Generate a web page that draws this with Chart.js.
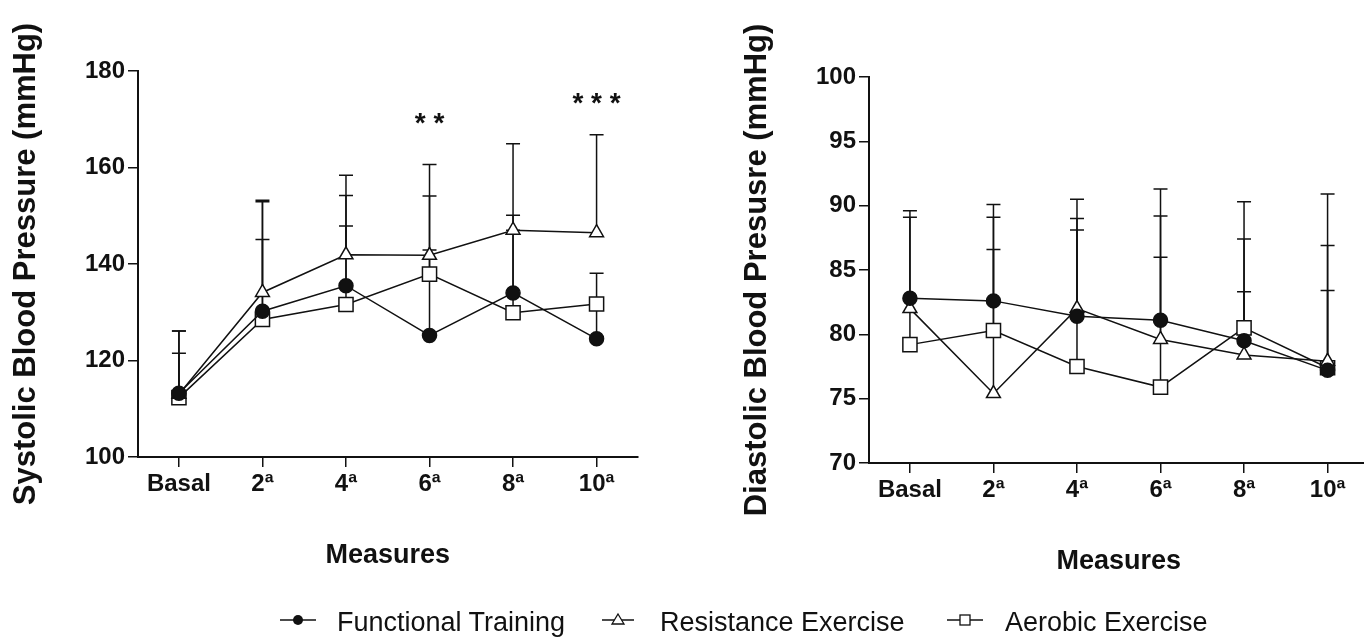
<!DOCTYPE html>
<html>
<head>
<meta charset="utf-8">
<title>Blood pressure by measure</title>
<script src="https://cdn.jsdelivr.net/npm/chart.js@4.4.1/dist/chart.umd.min.js"></script>
<style>
    html, body { margin: 0; padding: 0; background: #fff; overflow: hidden; }
    body { width: 1364px; height: 638px; position: relative; font-family: "Liberation Sans", Arial, sans-serif; color: #111; }
    canvas { display: block; }
    #sbpBox { position: absolute; left: 0; top: 0; width: 649px; height: 638px; }
    #dbpBox { position: absolute; left: 731px; top: 6px; width: 649px; height: 638px; }
    .mark { position: absolute; top: 610px; }
    .label { position: absolute; top: 609px; font-size: 27px; line-height: 27px; white-space: nowrap; }
</style>
</head>
<body>
<div id="sbpBox"><canvas id="sbpChart" width="649" height="638"></canvas></div>
<div id="dbpBox"><canvas id="dbpChart" width="649" height="638"></canvas></div>

<svg class="mark" style="left:280px" width="36" height="20">
    <line x1="0" y1="10" x2="36" y2="10" stroke="#111" stroke-width="1.5"/>
    <circle cx="18" cy="10" r="5" fill="#111"/>
</svg>
<span class="label" style="left:337px">Functional Training</span>
<svg class="mark" style="left:602px" width="32" height="20">
    <line x1="0" y1="10" x2="32" y2="10" stroke="#111" stroke-width="1.5"/>
    <polygon points="16,4 22,14 10,14" fill="#fff" stroke="#111" stroke-width="1.3"/>
</svg>
<span class="label" style="left:660px">Resistance Exercise</span>
<svg class="mark" style="left:947px" width="36" height="20">
    <line x1="0" y1="10" x2="36" y2="10" stroke="#111" stroke-width="1.5"/>
    <rect x="13" y="5" width="10" height="10" fill="#fff" stroke="#111" stroke-width="1.3"/>
</svg>
<span class="label" style="left:1005px">Aerobic Exercise</span>

<script>
// x categories
const measures = ['Basal', '2ª', '4ª', '6ª', '8ª', '10ª'];

// systolic blood pressure (mmHg): means and upper SD
const sbpTicks = [100, 120, 140, 160, 180];
const sbpFunctional = [113.2, 130.2, 135.5, 125.2, 134.0, 124.5];
const sbpResistance = [113.0, 134.1, 141.9, 141.8, 147.0, 146.5];
const sbpAerobic = [112.3, 128.5, 131.6, 137.9, 129.9, 131.7];
const sbpFunctionalSD = [12.9, 14.9, 18.7, 35.4, 16.1, 7.0];
const sbpResistanceSD = [8.5, 19.1, 16.5, 12.3, 17.9, 20.3];
const sbpAerobicSD = [13.8, 24.4, 16.3, 5.0, 17.1, 6.4];
const sbpSignif = ['', '', '', '* *', '', '* * *'];
const sbpSignifAt = [null, null, null, 170.2, null, 174.2];

// diastolic blood pressure (mmHg)
const dbpTicks = [70, 75, 80, 85, 90, 95, 100];
const dbpFunctional = [82.8, 82.6, 81.4, 81.1, 79.5, 77.2];
const dbpResistance = [82.0, 75.4, 82.0, 79.6, 78.4, 77.9];
const dbpAerobic = [79.2, 80.3, 77.5, 75.9, 80.5, 77.4];
const dbpFunctionalSD = [6.8, 6.5, 7.6, 4.9, 3.8, 6.2];
const dbpResistanceSD = [7.1, 11.2, 8.5, 11.7, 9.0, 13.0];
const dbpAerobicSD = [3.5, 9.8, 10.6, 13.3, 9.8, 9.5];

const INK = '#111';
const FONT = '"Liberation Sans", Arial, sans-serif';

// upper error bars, drawn under the markers
const errorBarPlugin = {
    id: 'errorBars',
    beforeDatasetsDraw(chart) {
        const { ctx } = chart;
        const y = chart.scales.y;
        ctx.save();
        ctx.strokeStyle = INK;
        ctx.lineWidth = 1.5;
        chart.data.datasets.forEach((ds, di) => {
            const meta = chart.getDatasetMeta(di);
            meta.data.forEach((pt, i) => {
                const top = y.getPixelForValue(ds.data[i].y + ds.errorBars[i]);
                ctx.beginPath();
                ctx.moveTo(pt.x, pt.y);
                ctx.lineTo(pt.x, top);
                ctx.moveTo(pt.x - 7, top);
                ctx.lineTo(pt.x + 7, top);
                ctx.stroke();
            });
        });
        ctx.restore();
    },
};

// significance asterisks above a category
const signifPlugin = {
    id: 'signif',
    afterDatasetsDraw(chart, args, opts) {
        if (!opts.labels) {
            return;
        }
        const { ctx } = chart;
        ctx.save();
        ctx.fillStyle = INK;
        ctx.font = 'bold 28px ' + FONT;
        ctx.textAlign = 'center';
        ctx.textBaseline = 'alphabetic';
        opts.labels.forEach((text, i) => {
            if (!text) {
                return;
            }
            const m = ctx.measureText(text);
            const px = chart.scales.x.getPixelForValue(i);
            const py = chart.scales.y.getPixelForValue(opts.at[i]);
            ctx.fillText(text, px, py + (m.actualBoundingBoxAscent - m.actualBoundingBoxDescent) / 2);
        });
        ctx.restore();
    },
};

function series(label, values, sd, style, radius, fill) {
    return {
        label,
        data: values.map((v, i) => ({ x: i, y: v })),
        errorBars: sd,
        borderColor: INK,
        borderWidth: 1.5,
        pointStyle: style,
        pointRadius: radius,
        pointBackgroundColor: fill,
        pointBorderColor: INK,
        pointBorderWidth: 1.5,
        tension: 0,
        fill: false,
    };
}

function makeChart(id, yTitle, yTicks, datasets, signif) {
    const ctx = document.getElementById(id).getContext('2d');
    return new Chart(ctx, {
        type: 'line',
        data: { datasets },
        plugins: [errorBarPlugin, signifPlugin],
        options: {
            responsive: false,
            animation: false,
            devicePixelRatio: 1,
            layout: { padding: { top: 71, right: 3, left: 0, bottom: 0 } },
            plugins: {
                legend: { display: false },
                tooltip: { enabled: false },
                signif: signif || {},
            },
            scales: {
                x: {
                    type: 'linear',
                    min: -0.49,
                    max: measures.length - 0.51,
                    afterFit: (scale) => {
                        scale.height = 181;
                    },
                    border: { display: true, color: INK, width: 2 },
                    grid: { drawOnChartArea: false, drawTicks: true, tickLength: 10, color: INK, lineWidth: 1.5 },
                    ticks: {
                        stepSize: 1,
                        includeBounds: false,
                        autoSkip: false,
                        maxRotation: 0,
                        padding: 3,
                        color: INK,
                        font: { family: FONT, size: 24, weight: 'bold' },
                        callback: (value) => measures[value],
                    },
                    title: {
                        display: true,
                        text: 'Measures',
                        color: INK,
                        padding: { top: 0, bottom: 66 },
                        font: { family: FONT, size: 27, weight: 'bold' },
                    },
                },
                y: {
                    min: yTicks[0],
                    max: yTicks[yTicks.length - 1],
                    afterFit: (scale) => { scale.width = 138; },
                    border: { display: true, color: INK, width: 2 },
                    grid: { drawOnChartArea: false, drawTicks: true, tickLength: 10, color: INK, lineWidth: 1.5 },
                    ticks: {
                        stepSize: yTicks[1] - yTicks[0],
                        padding: 3,
                        color: INK,
                        font: { family: FONT, size: 24, weight: 'bold' },
                    },
                    title: {
                        display: true,
                        text: yTitle,
                        color: INK,
                        padding: { top: 8, bottom: 0 },
                        font: { family: FONT, size: 31, weight: 'bold' },
                    },
                },
            },
        },
    });
}

makeChart('sbpChart', 'Systolic Blood Pressure (mmHg)', sbpTicks, [
    series('Functional Training', sbpFunctional, sbpFunctionalSD, 'circle', 7, INK),
    series('Resistance Exercise', sbpResistance, sbpResistanceSD, 'triangle', 8, '#fff'),
    series('Aerobic Exercise', sbpAerobic, sbpAerobicSD, 'rect', 10, '#fff'),
], { labels: sbpSignif, at: sbpSignifAt });

makeChart('dbpChart', 'Diastolic Blood Presusre (mmHg)', dbpTicks, [
    series('Functional Training', dbpFunctional, dbpFunctionalSD, 'circle', 7, INK),
    series('Resistance Exercise', dbpResistance, dbpResistanceSD, 'triangle', 8, '#fff'),
    series('Aerobic Exercise', dbpAerobic, dbpAerobicSD, 'rect', 10, '#fff'),
]);
</script>
</body>
</html>
